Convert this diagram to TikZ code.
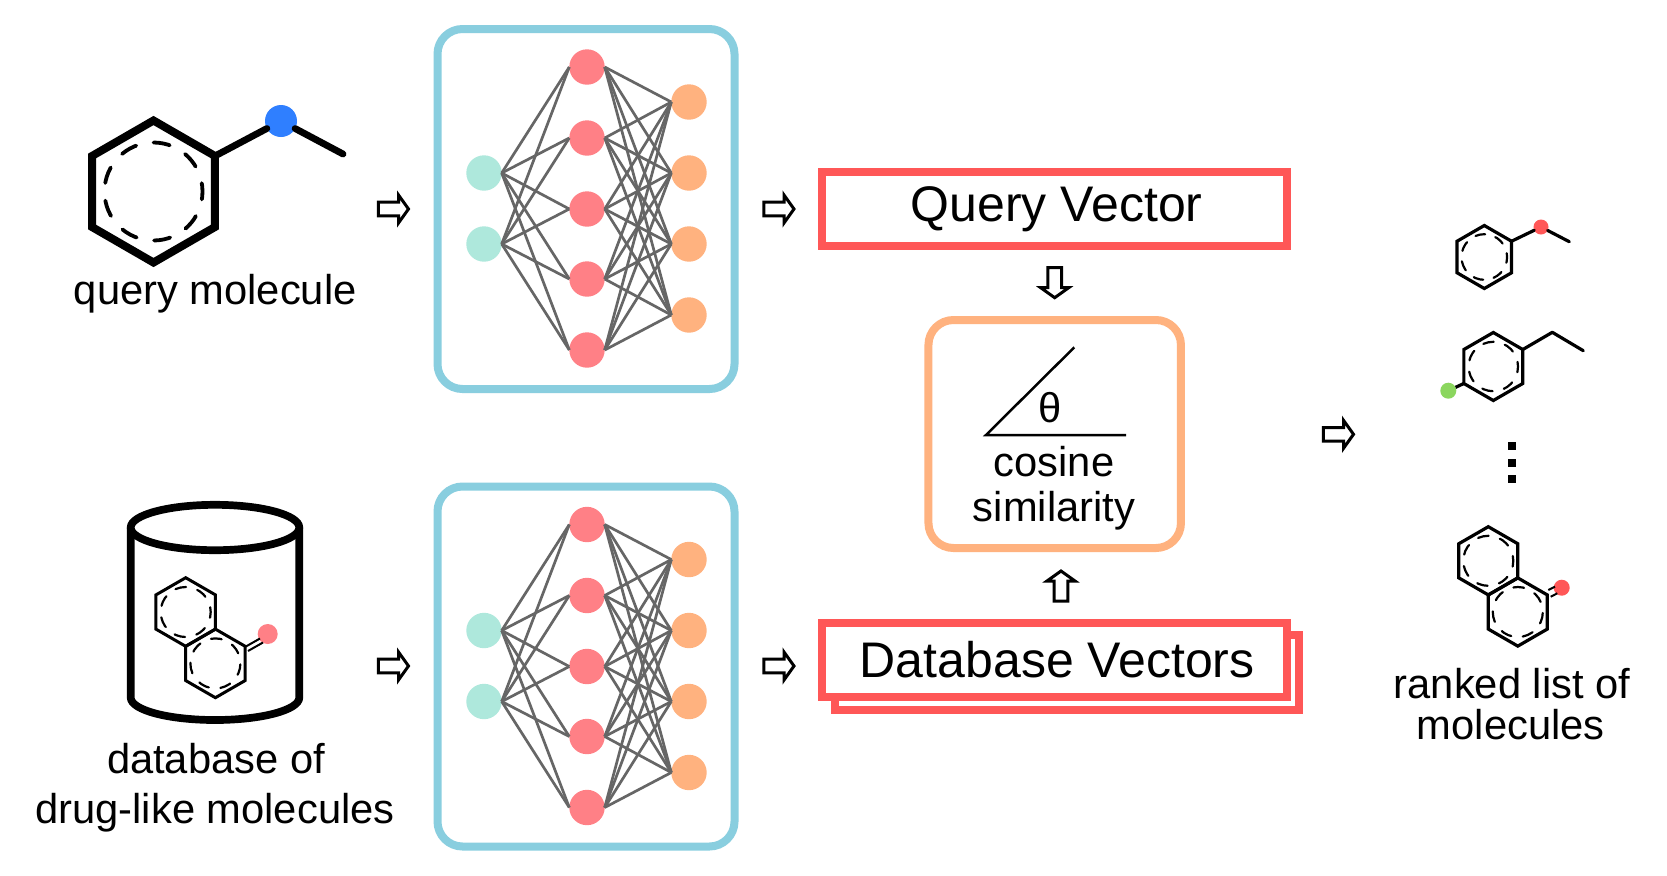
\documentclass[tikz,border=0pt]{standalone}
\usepackage{fontspec}
\setmainfont{Liberation Sans}
\definecolor{cRed}{HTML}{FF5757}
\definecolor{cPink}{HTML}{FF8086}
\definecolor{cOrange}{HTML}{FFB27F}
\definecolor{cTeal}{HTML}{AEE8DC}
\definecolor{cCyan}{HTML}{89CEDF}
\definecolor{cBlue}{HTML}{2F7FFF}
\definecolor{cGreen}{HTML}{8BD65E}
\definecolor{cEdge}{HTML}{666666}
\tikzset{
  txt/.style={inner sep=0pt,outer sep=0pt,anchor=base,font=\fontsize{20.85}{24}\selectfont},
  bigtxt/.style={txt,font=\fontsize{25}{28}\selectfont},
  neuron/.style={circle,inner sep=0pt,outer sep=0pt,minimum size=17.7pt},
  netedge/.style={draw=cEdge,line width=1.35pt},
  netbox/.style={draw=cCyan,line width=4pt,rounded corners=12.5pt,inner sep=0pt,minimum width=148.5pt,minimum height=180pt},
  vecbox/.style={draw=cRed,fill=white,line width=4pt,inner sep=0pt,minimum width=232.25pt},
  simbox/.style={draw=cOrange,line width=4pt,rounded corners=12.5pt,inner sep=0pt,minimum width=126.25pt,minimum height=114pt},
  blockarrow/.style={draw=black,line width=1.5pt,line join=miter,fill=white},
  atomdot/.style={circle,inner sep=0pt,outer sep=0pt},
}
% cx cy R lw dashr dashlw ndashes phase
\newcommand\hexring[8]{%
  \begin{scope}[shift={(#1,#2)}]
    \pgfmathsetmacro\hexh{0.866*#3}
    \pgfmathsetmacro\hexa{0.5*#3}
    \pgfmathsetmacro\dashon{pi*#5/#7*0.48}
    \pgfmathsetmacro\dashoff{pi*#5/#7*0.52}
    \draw[line width=#4*0.5pt,line join=miter] (0,-#3) -- (\hexh,-\hexa) -- (\hexh,\hexa) -- (0,#3) -- (-\hexh,\hexa) -- (-\hexh,-\hexa) -- cycle;
    \draw[line width=#6*0.5pt,line cap=round,dash pattern=on \dashon pt off \dashoff pt,dash phase=#8pt] (0,0) circle[radius=#5*0.5pt];
  \end{scope}}
\newcommand\harrow[3]{%
  \begin{scope}[shift={(#1,#2)},rotate=#3]
    \path[blockarrow] (-15.7,-6.8) -- (4.5,-6.8) -- (4.5,-14) -- (14.5,0) -- (4.5,14) -- (4.5,6.8) -- (-15.7,6.8) -- cycle;
  \end{scope}}
% prefix, vertical offset
\newcommand\nnet[2]{%
  \node[netbox] (#1box) at (586,209+#2) {};
  \foreach \i/\yy in {1/173,2/244} \node[neuron,fill=cTeal] (#1i\i) at (484,\yy+#2) {};
  \foreach \i/\yy in {1/67,2/138,3/209,4/279,5/350} \node[neuron,fill=cPink] (#1h\i) at (587,\yy+#2) {};
  \foreach \i/\yy in {1/102,2/173,3/244,4/315} \node[neuron,fill=cOrange] (#1o\i) at (689,\yy+#2) {};
  \foreach \a in {1,2} \foreach \b in {1,...,5} \path[netedge] (#1i\a.east) -- (#1h\b.west);
  \foreach \a in {1,...,5} \foreach \b in {1,...,4} \path[netedge] (#1h\a.east) -- (#1o\b.west);
}
\begin{document}
\begin{tikzpicture}[x=0.5pt,y=-0.5pt]
\useasboundingbox (0,0) rectangle (1667,875);
\fill[white] (0,0) rectangle (1667,875);

% query molecule
\hexring{153.5}{191.5}{71}{8}{49}{3.8}{9}{4}
\node[atomdot,fill=cBlue,minimum size=16pt] (qdot) at (281,121) {};
\coordinate (qa) at (215,156);
\coordinate (qb) at (343,154);
\draw[line width=3.4pt,line cap=round] (qa) -- (qdot);
\draw[line width=3.4pt,line cap=round] (qdot) -- (qb);
\node[txt] (qlabel) at (215.3,304) {query molecule};

% database cylinder
\draw[line width=3.85pt] (215,527.5) ellipse [x radius=84.3,y radius=22.7];
\draw[line width=3.85pt] (130.7,527.5) -- (130.7,697.5) .. controls (130.7,710) and (168.4,720) .. (215,720) .. controls (261.6,720) and (299.3,710) .. (299.3,697.5) -- (299.3,527.5);
\hexring{185.7}{612}{34.3}{3}{25}{2.2}{7}{3}
\hexring{215.4}{663.4}{34.3}{3}{25}{2.2}{7}{6}
\node[atomdot,fill=cPink,minimum size=10pt] (ddot) at (267.7,634) {};
\draw[line width=1pt] (245,647) -- (260,638.5);
\draw[line width=1pt] (248,651) -- (263,642.5);
\node[txt] (dlabela) at (216,773) {database of};
\node[txt] (dlabelb) at (215,823.7) {drug-like molecules};

% networks
\nnet{a}{0}
\nnet{b}{457.5}

% arrows left and middle
\harrow{394}{209}{0}
\harrow{394}{666}{0}
\harrow{779.5}{209}{0}
\harrow{779.5}{666}{0}
\harrow{1054.7}{283.2}{-90}
\harrow{1061}{585.5}{90}
\harrow{1339}{434.3}{0}

% vector boxes
\node[vecbox,minimum height=37.25pt] (qvec) at (1054.7,208.75) {};
\node[bigtxt] (qvectxt) at (1056.7,221.5) {Query Vector};
\node[vecbox,minimum height=37.25pt] (dvecback) at (1067,672.25) {};
\node[vecbox,minimum height=37.25pt] (dvec) at (1054.7,659.75) {};
\node[bigtxt] (dvectxt) at (1057.2,677.7) {Database Vectors};

% similarity box
\node[simbox] (sim) at (1054.7,434) {};
\coordinate (apex) at (986,435);
\coordinate (angtop) at (1074.3,347.3);
\coordinate (angend) at (1126,435);
\draw[line width=1.25pt,line join=miter] (angtop) -- (apex) -- (angend);
\node[txt] (theta) at (1050,422.5) {θ};
\node[txt] (cosa) at (1054,476) {cosine};
\node[txt] (cosb) at (1054,521.5) {similarity};

% ranked list
\hexring{1484.3}{257}{31.5}{3.2}{22.8}{2.2}{7}{3}
\node[atomdot,fill=cRed,minimum size=7.5pt] (r1dot) at (1541,227) {};
\coordinate (r1a) at (1511.6,241.2);
\coordinate (r1b) at (1569.3,241.7);
\draw[line width=1.6pt,line cap=round] (r1a) -- (r1dot);
\draw[line width=1.6pt,line cap=round] (r1dot) -- (r1b);

\hexring{1493.3}{366.5}{34}{3.2}{24.7}{2.2}{7}{3}
\coordinate (r2a) at (1522.8,349.5);
\coordinate (r2b) at (1552.3,332.3);
\coordinate (r2c) at (1583.3,350.7);
\draw[line width=1.6pt,line cap=round,line join=round] (r2a) -- (r2b) -- (r2c);
\node[atomdot,fill=cGreen,minimum size=8pt] (r2dot) at (1448.3,390.7) {};
\coordinate (r2d) at (1463.8,383.5);
\draw[line width=1.6pt] (r2d) -- (r2dot);

\foreach \i/\yy in {1/446.3,2/463,3/479.3}
  \node[rectangle,fill=black,inner sep=0pt,minimum size=4.15pt] (rank\i) at (1512.3,\yy) {};

\hexring{1488.3}{560.8}{34.1}{3.2}{25}{2.2}{7}{3}
\hexring{1517.8}{612}{34.1}{3.2}{25}{2.2}{7}{6}
\node[atomdot,fill=cRed,minimum size=8pt] (r3dot) at (1561.7,587.7) {};
\draw[line width=1pt] (1548.3,590) -- (1555,586.7);
\draw[line width=1pt] (1550.7,596.7) -- (1557.3,593.3);
\node[txt] (ra) at (1512,698) {ranked list of};
\node[txt] (rb) at (1510.8,739.5) {molecules};
\end{tikzpicture}
\end{document}
